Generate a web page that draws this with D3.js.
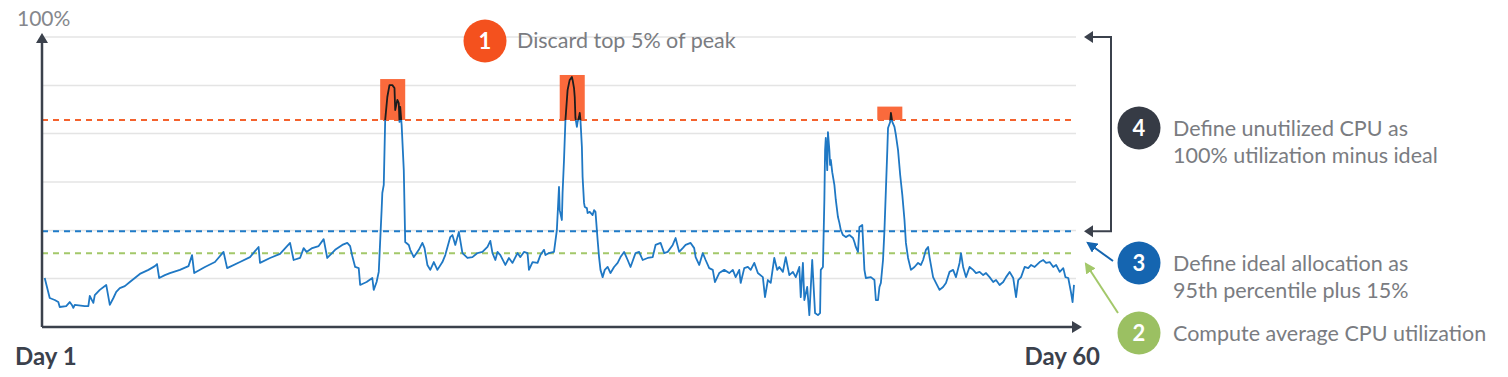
<!DOCTYPE html>
<html>
<head>
<meta charset="utf-8">
<script src="https://cdn.jsdelivr.net/npm/d3@7"></script>
<style>
  html, body { margin: 0; padding: 0; background: #fff; }
  svg { display: block; font-family: Lato, "Noto Sans", sans-serif; }
</style>
</head>
<body>
<div id="chart"></div>
<script>
// hours since day 1 (0..1440) and CPU utilization (%)
const hours = [1, 8, 15, 20, 22, 31, 36, 39, 41, 43, 57, 62, 64, 69, 71, 78, 87, 92, 97, 101,
  106, 113, 120, 127, 134, 146, 155, 158, 161, 169, 176, 190, 202, 207, 210, 225, 239, 251, 256, 274,
  288, 300, 302, 316, 330, 344, 349, 358, 363, 367, 375, 384, 391, 396, 407, 417, 424, 428, 431, 435,
  440, 442, 451, 459, 461, 465, 468, 472, 473, 475, 477, 480, 483, 487, 490, 491, 494, 496, 497, 498,
  500, 503, 505, 510, 512, 517, 524, 529, 532, 536, 540, 545, 550, 557, 561, 568, 571, 575, 580, 585,
  592, 599, 606, 613, 620, 624, 627, 631, 634, 638, 645, 650, 655, 662, 666, 671, 676, 678, 683, 690,
  694, 699, 701, 706, 713, 717, 720, 721, 724, 725, 727, 729, 732, 734, 735, 738, 739, 741, 742, 743,
  745, 746, 748, 749, 750, 752, 753, 755, 756, 759, 760, 763, 767, 769, 771, 774, 776, 778, 781, 784,
  788, 792, 797, 802, 806, 811, 816, 820, 827, 832, 837, 844, 851, 855, 862, 867, 872, 879, 883, 888,
  893, 897, 904, 909, 911, 916, 921, 925, 930, 935, 938, 944, 951, 958, 963, 967, 972, 974, 979, 984,
  988, 993, 998, 1005, 1008, 1012, 1016, 1021, 1025, 1028, 1033, 1037, 1042, 1047, 1051, 1056, 1058, 1061, 1063, 1067,
  1070, 1074, 1077, 1078, 1082, 1085, 1086, 1089, 1091, 1092, 1093, 1095, 1096, 1098, 1099, 1100, 1102, 1105, 1107, 1110,
  1112, 1114, 1117, 1121, 1126, 1131, 1133, 1135, 1138, 1140, 1144, 1147, 1149, 1156, 1161, 1163, 1166, 1168, 1170, 1173,
  1175, 1177, 1179, 1180, 1183, 1184, 1186, 1189, 1191, 1194, 1197, 1200, 1203, 1205, 1208, 1212, 1217, 1222, 1226, 1229,
  1233, 1236, 1238, 1243, 1247, 1252, 1257, 1261, 1266, 1271, 1275, 1280, 1282, 1285, 1289, 1294, 1299, 1303, 1308, 1313,
  1317, 1322, 1327, 1331, 1336, 1341, 1345, 1350, 1355, 1359, 1362, 1366, 1371, 1376, 1380, 1385, 1392, 1397, 1401, 1406,
  1411, 1415, 1420, 1425, 1428, 1432, 1436, 1438, 1439, 1440];

const cpu = [16.9, 10.0, 9.3, 8.6, 6.9, 7.2, 8.6, 7.6, 6.6, 7.6, 7.2, 7.2, 10.7, 8.3, 11.0, 12.8, 14.5, 7.6, 10.0, 12.1,
  13.4, 14.1, 15.5, 16.9, 18.3, 19.7, 21.0, 21.7, 16.9, 17.9, 18.6, 19.7, 21.0, 24.8, 18.6, 20.7, 22.4, 25.9, 20.3, 22.4,
  24.1, 27.6, 22.1, 23.8, 25.2, 29.0, 23.1, 23.8, 27.2, 25.9, 27.2, 27.9, 30.3, 23.8, 26.6, 28.3, 29.0, 27.9, 24.5, 20.7,
  20.3, 14.5, 15.5, 16.9, 12.8, 15.5, 19.0, 40.3, 46.2, 49.0, 71.4, 79.3, 83.4, 83.4, 82.4, 74.8, 78.3, 77.2, 70.7, 75.9,
  69.7, 54.1, 29.3, 28.3, 26.6, 24.1, 26.6, 29.0, 27.2, 21.4, 19.7, 22.4, 19.7, 22.4, 24.8, 31.0, 31.7, 28.3, 32.8, 25.5,
  23.8, 24.1, 25.5, 25.9, 27.6, 29.7, 25.5, 23.1, 25.9, 24.8, 21.4, 23.8, 22.1, 25.5, 24.1, 25.9, 25.5, 19.7, 22.4, 22.1,
  24.8, 26.6, 24.8, 25.5, 25.9, 33.4, 48.3, 40.3, 36.9, 46.2, 57.6, 71.4, 81.7, 84.1, 85.2, 86.2, 85.2, 82.4, 79.3, 72.1,
  69.0, 70.7, 72.4, 73.8, 71.4, 62.1, 51.7, 42.8, 41.4, 41.0, 39.3, 39.7, 38.6, 40.3, 39.7, 30.0, 24.1, 19.7, 17.2, 19.7,
  20.7, 18.6, 20.7, 22.1, 24.1, 25.9, 23.1, 20.7, 25.5, 25.9, 23.1, 23.8, 24.1, 28.3, 29.0, 25.5, 25.9, 28.3, 30.7, 25.9,
  27.2, 28.3, 29.0, 27.2, 24.1, 21.4, 25.5, 23.1, 20.3, 19.7, 15.5, 18.6, 19.7, 18.6, 19.7, 17.2, 19.7, 15.2, 20.3, 20.7,
  19.7, 22.1, 18.6, 17.2, 10.3, 16.2, 15.2, 23.8, 19.7, 20.7, 19.0, 24.1, 17.9, 19.0, 17.2, 20.7, 10.3, 22.1, 9.3, 13.8,
  4.1, 23.1, 9.3, 4.8, 4.1, 4.8, 19.7, 20.7, 43.8, 61.0, 65.2, 54.1, 67.2, 61.0, 55.9, 57.6, 53.4, 49.0, 43.8, 37.9,
  35.9, 33.4, 31.7, 31.0, 31.7, 30.7, 29.3, 27.6, 25.9, 34.5, 35.2, 19.7, 16.9, 17.2, 16.2, 9.3, 9.3, 13.8, 15.2, 23.1,
  33.4, 47.2, 61.0, 68.6, 70.7, 73.8, 70.7, 69.0, 66.2, 61.0, 52.4, 45.5, 36.9, 29.0, 23.8, 19.7, 20.7, 22.1, 21.4, 23.1,
  26.6, 27.6, 24.1, 17.2, 15.2, 12.8, 13.8, 15.2, 19.0, 19.7, 17.2, 22.1, 25.5, 20.7, 17.2, 20.7, 19.7, 18.6, 19.0, 17.9,
  18.6, 17.2, 15.5, 16.2, 14.5, 15.5, 17.2, 19.0, 16.9, 10.3, 16.2, 17.2, 20.7, 20.3, 21.4, 20.7, 22.4, 23.1, 22.1, 22.4,
  20.7, 21.4, 19.0, 20.3, 17.2, 16.9, 11.7, 8.6, 11.7, 14.5];

const gridTicks = [16.7, 33.3, 50, 66.7, 83.3, 100];

// reference levels (%)
const discardLevel = 71.4;
const idealLevel = 33.0;
const averageLevel = 25.4;

// discarded peak windows (hours) and their top (%)
const peakStart = [470, 721, 1165];
const peakEnd = [505, 756, 1200];
const peakTop = [85.5, 86.9, 76.0];

const stepNums = ['1', '4', '3', '2'];
const stepText = [
  ['Discard top 5% of peak'],
  ['Define unutilized CPU as', '100% utilization minus ideal'],
  ['Define ideal allocation as', '95th percentile plus 15%'],
  ['Compute average CPU utilization']
];

const width = 1508;
const height = 377;
const dark = '#3b414c';
const lineBlue = '#1f78c4';
const orange = '#f4622d';
const green = '#a3c86a';
const stepBlue = '#1565b0';
const textGray = '#7a7c81';

const svg = d3.select('#chart')
  .append('svg')
  .attr('width', width)
  .attr('height', height);

const x = d3.scaleLinear().domain([0, 1440]).range([44, 1074]);
const y = d3.scaleLinear().domain([0, 100]).range([327, 37]);

const plotLeft = 42, plotRight = 1076;

// gridlines
svg.append('g')
  .selectAll('line')
  .data(gridTicks)
  .join('line')
    .attr('x1', plotLeft)
    .attr('x2', plotRight)
    .attr('y1', d => y(d))
    .attr('y2', d => y(d))
    .attr('stroke', '#e4e4e4')
    .attr('stroke-width', 1.5);

// dashed reference lines
const levels = [
  { v: discardLevel, c: orange },
  { v: idealLevel, c: '#1f7bc8' },
  { v: averageLevel, c: green }
];
svg.append('g')
  .selectAll('line')
  .data(levels)
  .join('line')
    .attr('x1', plotLeft)
    .attr('x2', plotRight)
    .attr('y1', d => y(d.v))
    .attr('y2', d => y(d.v))
    .attr('stroke', d => d.c)
    .attr('stroke-width', 2)
    .attr('stroke-dasharray', '6,5');

const series = hours.map((h, i) => ({ h, v: cpu[i] }));
const line = d3.line()
  .x(d => x(d.h))
  .y(d => y(d.v));

svg.append('path')
  .datum(series)
  .attr('fill', 'none')
  .attr('stroke', lineBlue)
  .attr('stroke-width', 1.8)
  .attr('stroke-linejoin', 'round')
  .attr('d', line);

// discarded peak boxes
const peaks = peakStart.map((s, i) => ({ s, e: peakEnd[i], top: peakTop[i] }));
svg.append('g')
  .selectAll('rect')
  .data(peaks)
  .join('rect')
    .attr('x', d => x(d.s))
    .attr('y', d => y(d.top))
    .attr('width', d => x(d.e) - x(d.s))
    .attr('height', d => y(discardLevel) - y(d.top))
    .attr('fill', '#fa6a3c');

const clip = svg.append('clipPath').attr('id', 'peakclip');
clip.selectAll('rect')
  .data(peaks)
  .join('rect')
    .attr('x', d => x(d.s))
    .attr('y', d => y(d.top) - 5)
    .attr('width', d => x(d.e) - x(d.s))
    .attr('height', d => y(discardLevel) - y(d.top) + 5);

svg.append('path')
  .datum(series)
  .attr('clip-path', 'url(#peakclip)')
  .attr('fill', 'none')
  .attr('stroke', '#1d1d1d')
  .attr('stroke-width', 1.8)
  .attr('stroke-linejoin', 'round')
  .attr('d', line);

// axes with arrowheads
svg.append('line')
  .attr('x1', plotLeft).attr('x2', plotLeft)
  .attr('y1', 327).attr('y2', 40)
  .attr('stroke', dark).attr('stroke-width', 2.5);
svg.append('path')
  .attr('d', 'M42,33 L48,43 L36,43 Z')
  .attr('fill', dark);
svg.append('line')
  .attr('x1', plotLeft).attr('x2', 1075)
  .attr('y1', 327).attr('y2', 327)
  .attr('stroke', dark).attr('stroke-width', 2.5);
svg.append('path')
  .attr('d', 'M1082,327 L1072,321 L1072,333 Z')
  .attr('fill', dark);

svg.append('text')
  .attr('x', 17).attr('y', 26)
  .attr('fill', '#85878c')
  .attr('font-size', 21)
  .text('100%');

svg.append('text')
  .attr('x', 15).attr('y', 365)
  .attr('fill', dark)
  .attr('font-size', 24)
  .attr('font-weight', 700)
  .text('Day 1');
svg.append('text')
  .attr('x', 1100).attr('y', 365)
  .attr('text-anchor', 'end')
  .attr('fill', dark)
  .attr('font-size', 24)
  .attr('font-weight', 700)
  .text('Day 60');

// bracket for step 4
const bx = 1111;
svg.append('path')
  .attr('d', `M1090,${y(100)} H${bx} V${y(idealLevel)} H1090`)
  .attr('fill', 'none')
  .attr('stroke', dark)
  .attr('stroke-width', 2);
[y(100), y(idealLevel)].forEach(yy => {
  svg.append('path')
    .attr('d', `M1084,${yy} L1093,${yy - 6} L1093,${yy + 6} Z`)
    .attr('fill', dark);
});

// pointer arrows for steps 3 and 2
const defs = svg.append('defs');
[['arrBlue', stepBlue], ['arrGreen', green]].forEach(([id, c]) => {
  defs.append('marker')
    .attr('id', id)
    .attr('viewBox', '0 0 10 10')
    .attr('refX', 8).attr('refY', 5)
    .attr('markerWidth', 11).attr('markerHeight', 11)
    .attr('markerUnits', 'userSpaceOnUse')
    .attr('orient', 'auto')
    .append('path')
      .attr('d', 'M0,0 L10,5 L0,10 Z')
      .attr('fill', c);
});
svg.append('line')
  .attr('x1', 1113).attr('y1', 261)
  .attr('x2', 1088).attr('y2', 243)
  .attr('stroke', stepBlue).attr('stroke-width', 2)
  .attr('marker-end', 'url(#arrBlue)');
svg.append('line')
  .attr('x1', 1118).attr('y1', 313)
  .attr('x2', 1086).attr('y2', 264)
  .attr('stroke', green).attr('stroke-width', 2)
  .attr('marker-end', 'url(#arrGreen)');

// step badges and labels
const steps = [
  { cx: 485, cy: 41, c: '#f4511e', tx: 517, ty: 48 },
  { cx: 1139, cy: 128, c: '#363b45', tx: 1173, ty: 136 },
  { cx: 1139, cy: 263, c: stepBlue, tx: 1173, ty: 271 },
  { cx: 1139, cy: 333, c: '#9bc062', tx: 1173, ty: 341 }
];
const stepG = svg.append('g')
  .selectAll('g')
  .data(steps)
  .join('g');
stepG.append('circle')
  .attr('cx', d => d.cx)
  .attr('cy', d => d.cy)
  .attr('r', 21.5)
  .attr('fill', d => d.c);
stepG.append('text')
  .attr('x', d => d.cx)
  .attr('y', d => d.cy + 8)
  .attr('text-anchor', 'middle')
  .attr('fill', '#fff')
  .attr('font-size', 22)
  .attr('font-weight', 700)
  .text((d, i) => stepNums[i]);
stepG.append('text')
  .attr('x', d => d.tx)
  .attr('y', d => d.ty)
  .attr('fill', textGray)
  .attr('font-size', 21.5)
  .selectAll('tspan')
  .data((d, i) => stepText[i].map(t => ({ t, x: d.tx })))
  .join('tspan')
    .attr('x', d => d.x)
    .attr('dy', (d, i) => i === 0 ? 0 : 27)
    .text(d => d.t);
</script>
</body>
</html>
